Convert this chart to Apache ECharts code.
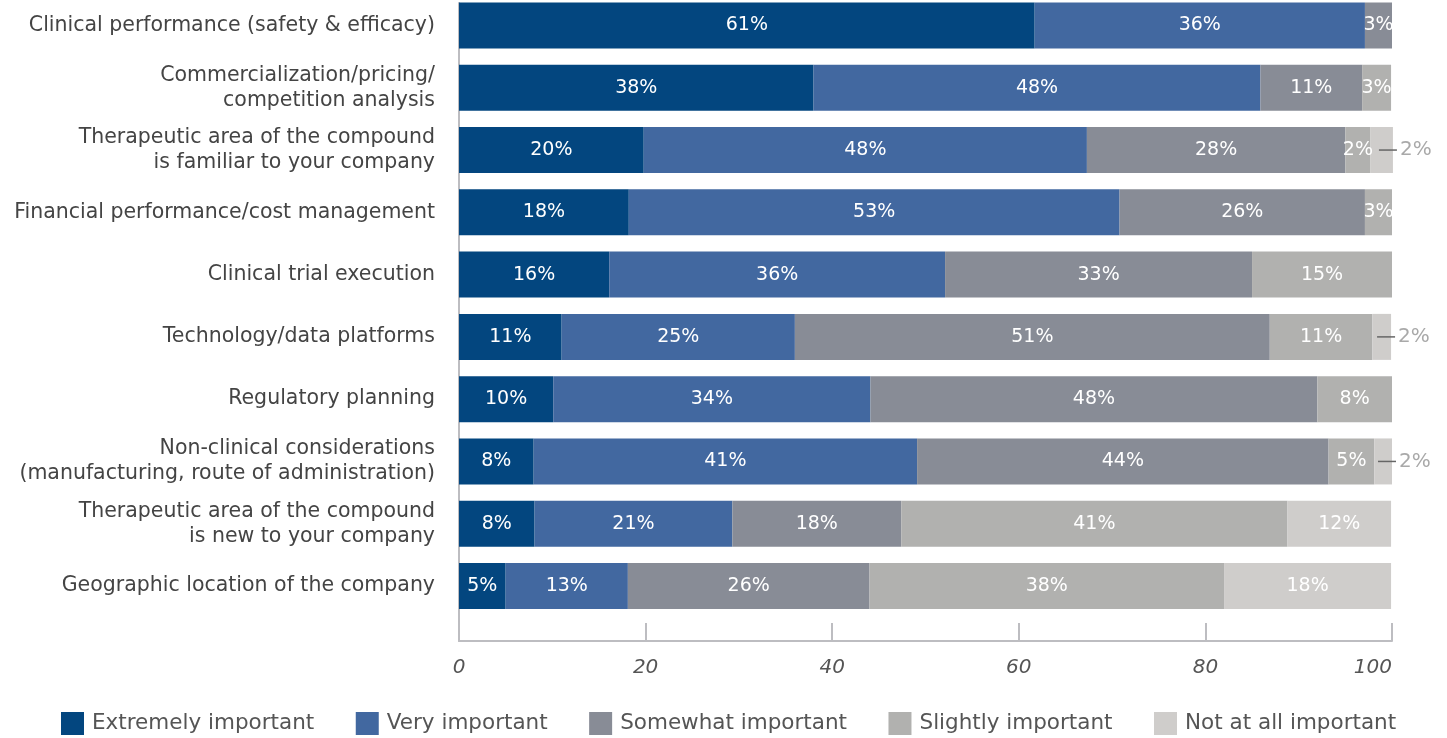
<!DOCTYPE html>
<html>
<head>
<meta charset="utf-8">
<script src="https://cdn.jsdelivr.net/npm/echarts@6/dist/echarts.min.js"></script>
<style>
html,body{margin:0;padding:0;background:#fff;}
#chart{width:1447px;height:738px;}
</style>
</head>
<body>
<div id="chart"></div>
<script>
const categories = [
  'Clinical performance (safety & efficacy)',
  'Commercialization/pricing/\ncompetition analysis',
  'Therapeutic area of the compound\nis familiar to your company',
  'Financial performance/cost management',
  'Clinical trial execution',
  'Technology/data platforms',
  'Regulatory planning',
  'Non-clinical considerations\n(manufacturing, route of administration)',
  'Therapeutic area of the compound\nis new to your company',
  'Geographic location of the company'
];
const seriesNames = ['Extremely important','Very important','Somewhat important','Slightly important','Not at all important'];
// bar lengths
const extremely = [61.7, 38.0, 19.8, 18.2, 16.1, 11.0, 10.1, 8.0, 8.1, 5.0];
const very      = [35.4, 47.9, 47.5, 52.6, 36.0, 25.0, 34.0, 41.1, 21.2, 13.1];
const somewhat  = [2.9, 10.9, 27.7, 26.3, 32.9, 50.9, 47.9, 44.1, 18.1, 25.9];
const slightly  = [0, 3.1, 2.7, 2.9, 15.0, 11.0, 8.0, 4.9, 41.4, 38.0];
const notAtAll  = [0, 0, 2.4, 0, 0, 2.0, 0, 1.9, 11.1, 17.9];
// printed percentages
const extremelyLbl = [61, 38, 20, 18, 16, 11, 10, 8, 8, 5];
const veryLbl      = [36, 48, 48, 53, 36, 25, 34, 41, 21, 13];
const somewhatLbl  = [3, 11, 28, 26, 33, 51, 48, 44, 18, 26];
const slightlyLbl  = [0, 3, 2, 3, 15, 11, 8, 5, 41, 38];
const notAtAllLbl  = [0, 0, 2, 0, 0, 2, 0, 2, 12, 18];
const xTicks = [0, 20, 40, 60, 80, 100];

const values = [extremely, very, somewhat, slightly, notAtAll];
const labels = [extremelyLbl, veryLbl, somewhatLbl, slightlyLbl, notAtAllLbl];
const colors = ['#03467f', '#4268a0', '#888c96', '#b1b1af', '#cfcdcb'];
const FONT = 'DejaVu Sans';
const axisColor = '#bdbdc1';

const series = values.map((arr, si) => ({
  name: seriesNames[si],
  type: 'bar',
  stack: 'total',
  xAxisIndex: 0,
  yAxisIndex: 0,
  barWidth: 46,
  clip: false,
  itemStyle: { color: colors[si] },
  label: {
    show: true,
    position: 'inside',
    color: '#fff',
    fontFamily: FONT,
    fontSize: 19,
    formatter: p => labels[si][p.dataIndex] + '%'
  },
  data: arr.map((v, i) => {
    if (!v) return null;
    if (si === 4 && v < 3) {
      return {
        value: v,
        label: {
          position: 'right',
          distance: -14,
          formatter: '{l|}{t|' + labels[si][i] + '%}',
          rich: {
            l: { width: 18, height: 1.5, backgroundColor: '#666' },
            t: { color: '#a9a9a9', fontSize: 20, fontFamily: FONT, padding: [0, 0, 0, 3] }
          }
        }
      };
    }
    return v;
  })
}));

const chart = echarts.init(document.getElementById('chart'), null, { renderer: 'canvas' });
chart.setOption({
  animation: false,
  legend: {
    left: 56,
    top: 707,
    itemWidth: 23,
    itemHeight: 23,
    itemGap: 41.5,
    icon: 'rect',
    data: seriesNames,
    textStyle: { fontFamily: FONT, fontSize: 21.5, color: '#555', padding: [0, 0, 0, 3] }
  },
  grid: [
    { left: 459, right: 55, top: 25.5, bottom: 152, containLabel: false },
    { left: 459, right: 55, top: 3, bottom: 97, containLabel: false }
  ],
  xAxis: [
    { type: 'value', gridIndex: 0, min: 0, max: 100, show: false },
    {
      type: 'value', gridIndex: 1, min: 0, max: 100, interval: 20,
      axisLine: { show: true, lineStyle: { color: axisColor, width: 2 } },
      axisTick: { show: true, inside: true, length: 18, lineStyle: { color: axisColor, width: 2 } },
      splitLine: { show: false },
      axisLabel: {
        fontFamily: FONT, fontSize: 20, fontStyle: 'italic', color: '#555', margin: 17,
        alignMaxLabel: 'right',
        formatter: v => xTicks.includes(v) ? String(v) : ''
      }
    }
  ],
  yAxis: [
    {
      type: 'category', gridIndex: 0, inverse: true, data: categories, boundaryGap: false,
      axisLine: { show: false }, axisTick: { show: false }, splitLine: { show: false },
      axisLabel: { fontFamily: FONT, fontSize: 20.5, color: '#444', margin: 24, lineHeight: 25, align: 'right' }
    },
    {
      type: 'value', gridIndex: 1, min: 0, max: 1,
      axisLine: { show: true, lineStyle: { color: axisColor, width: 2 } },
      axisTick: { show: false }, axisLabel: { show: false }, splitLine: { show: false }
    }
  ],
  series: series
});
</script>
</body>
</html>
